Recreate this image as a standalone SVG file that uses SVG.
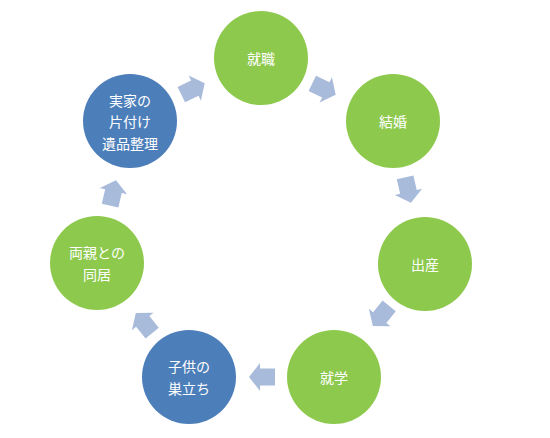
<svg xmlns="http://www.w3.org/2000/svg" xmlns:xlink="http://www.w3.org/1999/xlink" width="550" height="438" viewBox="0 0 550 438">
<style>
.g{fill:#8DC94D}
.b{fill:#4C7EBA}
.a{fill:#A8BBDB}
text{font-family:"Noto Sans CJK JP","Noto Sans",sans-serif;font-size:14px;fill:#FFFFFF;text-anchor:middle;dominant-baseline:central}
</style>
<defs>
<path id="arr" d="M-13,-8.5 H2 V-14 L13,0 L2,14 V8.5 H-13 Z"/>
</defs>
<rect width="550" height="438" fill="#FFFFFF"/>
<g id="connectors" class="a">
<use xlink:href="#arr" href="#arr" transform="translate(193,89) rotate(-26)"/>
<use xlink:href="#arr" href="#arr" transform="translate(324,89) rotate(26)"/>
<use xlink:href="#arr" href="#arr" transform="translate(408,190) rotate(77)"/>
<use xlink:href="#arr" href="#arr" transform="translate(381,316) rotate(129)"/>
<use xlink:href="#arr" href="#arr" transform="translate(262,377) rotate(180)"/>
<use xlink:href="#arr" href="#arr" transform="translate(144,323) rotate(231)"/>
<use xlink:href="#arr" href="#arr" transform="translate(113,193) rotate(-77)"/>
</g>
<g id="node-shushoku"><circle class="g" cx="261" cy="58" r="47"/><text x="261" y="58">就職</text></g>
<g id="node-kekkon"><circle class="g" cx="393" cy="121" r="47"/><text x="393" y="121">結婚</text></g>
<g id="node-shussan"><circle class="g" cx="425" cy="264" r="47"/><text x="425" y="264">出産</text></g>
<g id="node-shugaku"><circle class="g" cx="334" cy="377" r="47"/><text x="334" y="377">就学</text></g>
<g id="node-sudachi"><circle class="b" cx="189" cy="377" r="47"/><text x="189" y="366">子供の</text><text x="189" y="388">巣立ち</text></g>
<g id="node-dokyo"><circle class="g" cx="97" cy="263" r="47"/><text x="97" y="252">両親との</text><text x="97" y="274">同居</text></g>
<g id="node-jikka"><circle class="b" cx="130" cy="121" r="47"/><text x="130" y="100">実家の</text><text x="130" y="121">片付け</text><text x="130" y="143">遺品整理</text></g>
</svg>
